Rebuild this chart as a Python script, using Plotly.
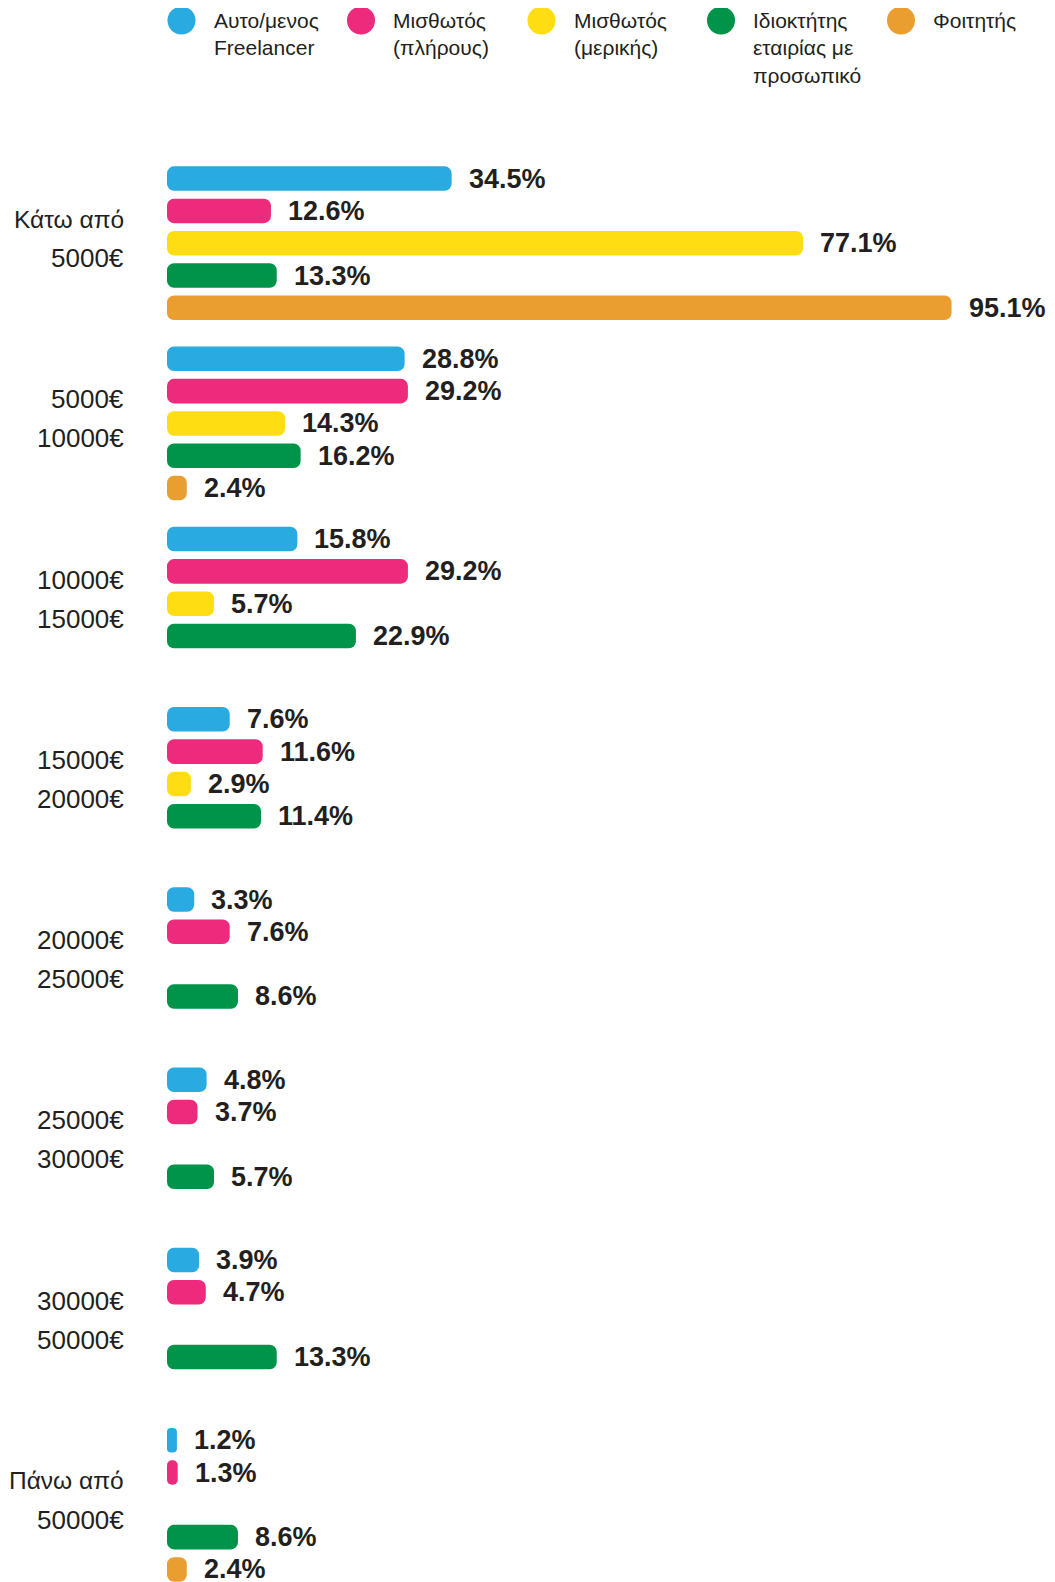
import plotly.graph_objects as go

# ---------------- data ----------------
group_line1 = ["Κάτω από", "5000€", "10000€", "15000€", "20000€", "25000€", "30000€", "Πάνω από"]
group_line2 = ["5000€", "10000€", "15000€", "20000€", "25000€", "30000€", "50000€", "50000€"]

series_names = [
    "Αυτο/μενος<br>Freelancer",
    "Μισθωτός<br>(πλήρους)",
    "Μισθωτός<br>(μερικής)",
    "Ιδιοκτήτης<br>εταιρίας με<br>προσωπικό",
    "Φοιτητής",
]
freelancer = [34.5, 28.8, 15.8, 7.6, 3.3, 4.8, 3.9, 1.2]
full_time = [12.6, 29.2, 29.2, 11.6, 7.6, 3.7, 4.7, 1.3]
part_time = [77.1, 14.3, 5.7, 2.9, None, None, None, None]
owner = [13.3, 16.2, 22.9, 11.4, 8.6, 5.7, 13.3, 8.6]
student = [95.1, 2.4, None, None, None, None, None, 2.4]
series_values = [freelancer, full_time, part_time, owner, student]
colors = ["#29aae1", "#ed2a7b", "#fedd12", "#00934a", "#eb9e30"]

# ---------------- layout constants ----------------
# the page body adds an 8px margin, so the figure is drawn 8px smaller
OFF = 8
W, H = 1055 - OFF, 1582 - OFF
ML, MT, MB = 167 - OFF, 140 - OFF, 0
PLOT_W = 825
MR = W - ML - PLOT_W
PLOT_H = H - MT - MB
X_MAX = 100
SLOT_PX = 32.3
GROUP_PITCH = 5.58
FIRST_BAR_PX = 178.6 - OFF
Y_TOP = -(FIRST_BAR_PX - MT) / SLOT_PX
Y_BOTTOM = Y_TOP + PLOT_H / SLOT_PX

TEXT = "#231f20"
FONT = "Liberation Sans, Arial, Helvetica, sans-serif"


def slot_pos(g, s):
    return g * GROUP_PITCH + s


fig = go.Figure()
annotations = []
shapes = []

for s, (name, vals, col) in enumerate(zip(series_names, series_values, colors)):
    ys = [slot_pos(g, s) for g in range(len(vals))]
    # an explicit base makes plotly round both ends of every bar
    fig.add_trace(go.Bar(
        x=vals, y=ys, base=0, orientation="h", width=0.76,
        marker=dict(color=col, cornerradius=7, line=dict(width=0)),
        name=name.replace("<br>", " "), showlegend=False, hoverinfo="x",
    ))
    for g, v in enumerate(vals):
        if v is None:
            continue
        annotations.append(dict(
            x=v, y=slot_pos(g, s), xref="x", yref="y",
            text=f"<b>{v}%</b>", showarrow=False,
            xanchor="left", yanchor="middle", xshift=15,
            font=dict(family=FONT, size=27, color=TEXT),
        ))

# group labels
for g, (l1, l2) in enumerate(zip(group_line1, group_line2)):
    yc = slot_pos(g, 2)
    for txt, ysh in ((l1, 24), (l2, -15)):
        size = 24.5 if any(c.isalpha() and c not in "€" for c in txt) else 26
        annotations.append(dict(
            x=0, y=yc, xref="x", yref="y", text=txt, showarrow=False,
            xanchor="right", yanchor="middle", xshift=-41, yshift=ysh,
            font=dict(family=FONT, size=size, color=TEXT),
        ))


def px_to_paper_x(px):
    return (px - OFF - ML) / PLOT_W


def px_to_paper_y(py):
    return 1 - (py - OFF - MT) / PLOT_H


# custom legend (large circles)
legend_circle_x = [181.5, 361, 541.5, 721, 901]
for name, col, cx in zip(series_names, colors, legend_circle_x):
    shapes.append(dict(
        type="circle", xref="paper", yref="paper",
        xsizemode="pixel", ysizemode="pixel",
        xanchor=px_to_paper_x(cx), yanchor=px_to_paper_y(20.5),
        x0=-14, x1=14, y0=-14, y1=14,
        fillcolor=col, line=dict(width=0),
    ))
    annotations.append(dict(
        x=px_to_paper_x(cx + 30), y=px_to_paper_y(7), xref="paper", yref="paper",
        text=name, showarrow=False, align="left",
        xanchor="left", yanchor="top",
        font=dict(family=FONT, size=21, color=TEXT),
    ))

fig.update_layout(
    width=W, height=H,
    margin=dict(l=ML, r=MR, t=MT, b=MB, pad=0),
    paper_bgcolor="white", plot_bgcolor="white",
    barmode="overlay",
    showlegend=False,
    xaxis=dict(range=[0, X_MAX], visible=False, fixedrange=True),
    yaxis=dict(range=[Y_BOTTOM, Y_TOP], visible=False, fixedrange=True),
    annotations=annotations,
    shapes=shapes,
)

fig.write_html("out.html")
